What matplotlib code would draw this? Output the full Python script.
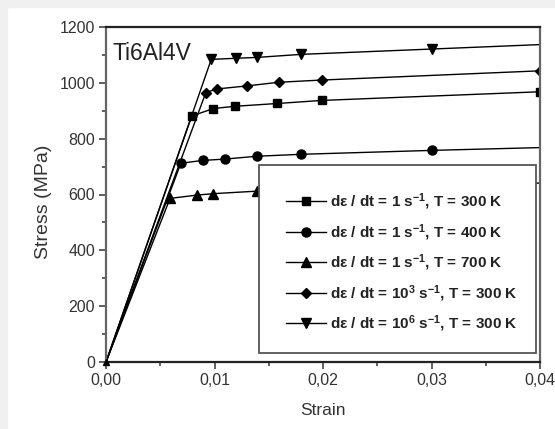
import matplotlib
matplotlib.use("Agg")
import matplotlib.pyplot as plt
from matplotlib.patches import Rectangle

plt.rcParams['font.family'] = ['Liberation Sans', 'DejaVu Sans']
plt.rcParams['mathtext.fontset'] = 'custom'
plt.rcParams['mathtext.rm'] = 'Liberation Sans:bold'
plt.rcParams['mathtext.bf'] = 'Liberation Sans:bold'
plt.rcParams['mathtext.default'] = 'bf'

# Flow curves of Ti6Al4V: strain and stress (MPa) for each test condition
strain_1s_300K = [0.0, 0.0079, 0.0099, 0.0119, 0.0158, 0.0199, 0.0400]
stress_1s_300K = [0, 881, 908, 916, 926, 937, 968]

strain_1s_400K = [0.0, 0.0069, 0.0089, 0.0110, 0.0139, 0.0180, 0.0300, 0.0400]
stress_1s_400K = [0, 712, 722, 727, 737, 744, 758, 768]

strain_1s_700K = [0.0, 0.0059, 0.0084, 0.0099, 0.0139, 0.0180, 0.0400]
stress_1s_700K = [0, 586, 598, 603, 612, 616, 641]

strain_1e3_300K = [0.0, 0.0092, 0.0102, 0.0130, 0.0159, 0.0199, 0.0400]
stress_1e3_300K = [0, 965, 978, 989, 1002, 1010, 1043]

strain_1e6_300K = [0.0, 0.0097, 0.0120, 0.0139, 0.0180, 0.0300, 0.0400]
stress_1e6_300K = [0, 1084, 1088, 1091, 1102, 1121, 1137]

labels = [
    'dε / dt = 1 s$^{-1}$, T = 300 K',
    'dε / dt = 1 s$^{-1}$, T = 400 K',
    'dε / dt = 1 s$^{-1}$, T = 700 K',
    'dε / dt = 10$^{3}$ s$^{-1}$, T = 300 K',
    'dε / dt = 10$^{6}$ s$^{-1}$, T = 300 K',
]

x_ticks = [0.00, 0.01, 0.02, 0.03, 0.04]
x_tick_labels = ['0,00', '0,01', '0,02', '0,03', '0,04']
y_ticks = [0, 200, 400, 600, 800, 1000, 1200]

W, H = 555, 429
fig = plt.figure(figsize=(W / 100, H / 100), dpi=100)
fig.patch.set_facecolor('white')
# light grey frame strips along the top and left edges
fig.add_artist(Rectangle((0, 1 - 7 / H), 1, 7 / H, transform=fig.transFigure,
                         color='#f0f0f0', zorder=0))
fig.add_artist(Rectangle((0, 0), 7 / W, 1, transform=fig.transFigure,
                         color='#f0f0f0', zorder=0))

ax_l, ax_r, ax_t, ax_b = 106, 540, 27, 362
ax = fig.add_axes([ax_l / W, 1 - ax_b / H, (ax_r - ax_l) / W, (ax_b - ax_t) / H])


def ax_frac(px, py):
    return (px - ax_l) / (ax_r - ax_l), (ax_b - py) / (ax_b - ax_t)


series = [
    (strain_1s_300K, stress_1s_300K, 's', 6, None),
    (strain_1s_400K, stress_1s_400K, 'o', 6.5, list(range(1, 7))),
    (strain_1s_700K, stress_1s_700K, '^', 6.5, list(range(1, 6))),
    (strain_1e3_300K, stress_1e3_300K, 'D', 5, None),
    (strain_1e6_300K, stress_1e6_300K, 'v', 6.5, list(range(1, 6))),
]

handles = []
for (xs, ys, m, ms, every), lab in zip(series, labels):
    if every is None:
        every = list(range(1, len(xs)))
    h, = ax.plot(xs, ys, color='black', lw=1.0, marker=m, markersize=ms,
                 markevery=every, markerfacecolor='black', markeredgecolor='black',
                 label=lab, zorder=2)
    handles.append(h)

# marker at the origin
ax.plot([0], [0], marker='^', color='black', markersize=4, clip_on=False, zorder=5)

ax.set_xlim(0, 0.04)
ax.set_ylim(0, 1200)
ax.set_xticks(x_ticks)
ax.set_xticklabels(x_tick_labels)
ax.set_yticks(y_ticks)
ax.set_xticks([0.005, 0.015, 0.025, 0.035], minor=True)
ax.set_yticks([100, 300, 500, 700, 900, 1100], minor=True)
ax.tick_params(axis='both', which='major', direction='out', length=5, width=1.2,
               labelsize=11.5, colors='#444444', labelcolor='#333333', pad=3)
ax.tick_params(axis='both', which='minor', direction='out', length=3, width=1.2,
               colors='#444444')

for side in ['top', 'bottom']:
    ax.spines[side].set_color('#222222')
    ax.spines[side].set_linewidth(1.6)
for side in ['left', 'right']:
    ax.spines[side].set_color('#666666')
    ax.spines[side].set_linewidth(1.6)

ax.set_xlabel('Strain', fontsize=12.5, color='#333333', labelpad=11)
ax.set_ylabel('Stress (MPa)', fontsize=14, color='#333333')
ax.yaxis.set_label_coords((52 - ax_l) / (ax_r - ax_l), (ax_b - 201.5) / (ax_b - ax_t))

ax.text(0.015, 0.955, 'Ti6Al4V', transform=ax.transAxes, fontsize=16.5,
        color='#222222', ha='left', va='top')

# legend box
bx0, by0 = ax_frac(259, 353)
bx1, by1 = ax_frac(536, 165)
ax.add_patch(Rectangle((bx0, by0), bx1 - bx0, by1 - by0, transform=ax.transAxes,
                       facecolor='white', edgecolor='#555555', lw=1.3, zorder=4))

lx, ly = ax_frac(286, 191.5)
leg = ax.legend(handles=handles, loc='upper left', bbox_to_anchor=(lx, ly),
                frameon=False, borderpad=0, borderaxespad=0, labelspacing=0.65,
                handlelength=2.65, handletextpad=0.2,
                prop={'weight': 'bold', 'size': 11})
leg.set_zorder(5)
for t in leg.get_texts():
    t.set_color('#222222')

fig.savefig('out.png', dpi=100, facecolor=fig.get_facecolor())
